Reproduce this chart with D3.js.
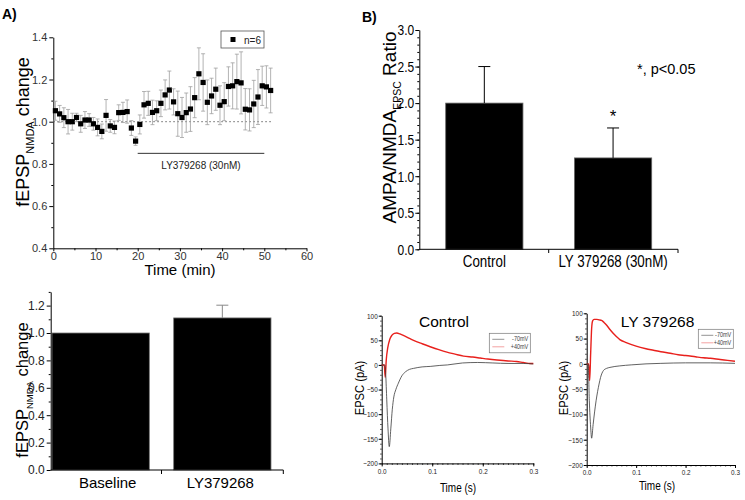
<!DOCTYPE html>
<html><head><meta charset="utf-8">
<script src="https://cdn.jsdelivr.net/npm/d3@7"></script>
<style>body{margin:0;background:#fff}svg{display:block}</style>
</head><body><svg id="c" width="745" height="500"></svg>
<script>
// ---------- Panel A (top): fEPSP_NMDA time course ----------
const timeMin = [0.5,1.5,2.5,3.5,4.5,5.5,6.5,7.5,8.5,9.5,10.5,11.5,12.5,13.5,14.5,15.5,16.5,17.5,18.5,19.5,20.5,21.5,22.5,23.5,24.5,25.5,26.5,27.5,28.5,29.5,30.5,31.5,32.5,33.5,34.5,35.5,36.5,37.5,38.5,39.5,40.5,41.5,42.5,43.5,44.5,45.5,46.5,47.5,48.5,49.5,50.5,51.5];
const fepspChange = [1.052,1.037,1.019,1.0,1.0,1.02,0.99,1.008,1.008,0.99,0.973,0.954,1.03,0.98,0.973,1.043,1.044,1.048,0.97,0.908,0.987,1.08,1.087,1.044,1.052,1.087,1.127,1.15,1.094,1.038,1.02,1.043,1.06,1.114,1.227,1.186,1.092,1.122,1.154,1.078,1.095,1.167,1.17,1.19,1.184,1.059,1.056,1.084,1.117,1.17,1.165,1.148];
const fepspSem = [0.045,0.04,0.047,0.058,0.04,0.02,0.04,0.04,0.03,0.03,0.04,0.035,0.075,0.03,0.03,0.037,0.048,0.055,0.035,0.02,0.045,0.063,0.057,0.058,0.047,0.063,0.071,0.09,0.062,0.107,0.095,0.093,0.106,0.095,0.123,0.136,0.106,0.084,0.1,0.092,0.09,0.093,0.109,0.13,0.147,0.098,0.1,0.112,0.13,0.093,0.1,0.106];
const timeTicks = [0,10,20,30,40,50,60];
const timeMinorTicks = [5,15,25,35,45,55];
const changeTicks = [0.4,0.6,0.8,1.0,1.2,1.4];
const changeMinorTicks = [0.5,0.7,0.9,1.1,1.3];
const drugBar = [20, 50];      // LY379268 application window (min)
const drugBarLevel = [0.85];
const baselineLevel = [1.0];

// ---------- Panel A (bottom): summary ----------
const summaryCats = ["Baseline","LY379268"];
const summaryVals = [1.0, 1.11];
const summaryErr = [0, 0.093];
const summaryTicks = [0.0,0.2,0.4,0.6,0.8,1.0,1.2];
const summaryMinorTicks = [0.1,0.3,0.5,0.7,0.9,1.1,1.3];

// ---------- Panel B (top): AMPA/NMDA ratio ----------
const ratioCats = ["Control","LY 379268 (30nM)"];
const ratioVals = [2.0, 1.25];
const ratioErr = [0.5, 0.41];
const ratioTicks = [0.0,0.5,1.0,1.5,2.0,2.5,3.0];

// ---------- Panel B (bottom): EPSC traces ----------
const ctlT70 = [0,0.006,0.008,0.010,0.0125,0.015,0.018,0.021,0.024,0.028,0.033,0.04,0.047,0.055,0.063,0.08,0.096,0.115,0.13,0.16,0.19,0.22,0.25,0.28,0.3];
const ctlV70 = [0,0,-20,-71,-130,-166,-130,-90,-65,-50,-37,-22,-14,-9,-7,-4,-3,-1,0,4,5,4,3,3,2];
const ctlT40 = [0,0.005,0.007,0.009,0.012,0.016,0.02,0.025,0.03,0.036,0.045,0.055,0.063,0.08,0.096,0.113,0.129,0.145,0.162,0.18,0.195,0.21,0.228,0.25,0.267,0.28,0.294,0.3];
const ctlV40 = [0,0,-25,10,35,52,60,64,65,63,59,54,50,43,37,31,26,22,18,16,14,12,10,8,7,5,3,3];
const lyT70 = [0,0.003,0.0053,0.008,0.010,0.013,0.016,0.019,0.022,0.025,0.028,0.034,0.04,0.047,0.067,0.09,0.12,0.15,0.2,0.25,0.3];
const lyV70 = [0,0,-73,-125,-147,-120,-95,-73,-55,-40,-27,-13,-9,-7,-4,-2,0,1,2,2,1];
const lyT40 = [0,0.004,0.006,0.008,0.010,0.012,0.015,0.02,0.025,0.03,0.035,0.04,0.047,0.054,0.06,0.067,0.08,0.1,0.12,0.135,0.15,0.169,0.185,0.2,0.22,0.236,0.25,0.27,0.285,0.3];
const lyV40 = [0,0,-33,20,70,85,88,88,87,86,82,77,68,60,54,48,42,35,30,27,24,21,18,16.6,14,12,11,8.6,7,5.3];
const traceTicksX = [0,0.1,0.2,0.3];
const traceTicksY = [-200,-150,-100,-50,0,50,100];
const legendLabels = ["-70mV","+40mV"];

// ======================================================
const FA = '"Liberation Sans", Arial, Helvetica, sans-serif';
const svg = d3.select("#c");

// horizontally condense text (figure uses a squeezed font)
function narrow(sel, k){
  sel.each(function(){
    const t = d3.select(this);
    const x = +(t.attr("x") || 0);
    const tr = t.attr("transform") || "";
    t.attr("x", x / k).attr("transform", tr + ` scale(${k},1)`);
  });
}
function styleAxis(g, size, color){
  g.attr("font-family", FA).attr("font-size", size);
  g.selectAll("path,line").attr("stroke","#000").attr("stroke-width",1);
  g.selectAll("text").attr("fill", color);
}
function ylabel(x, y, size, main, sub, rest, subSize){
  const t = svg.append("text").attr("transform",`translate(${x},${y}) rotate(-90)`)
    .attr("text-anchor","middle").attr("font-family",FA).attr("font-size",size).attr("fill","#000");
  t.append("tspan").text(main);
  t.append("tspan").attr("font-size",subSize).attr("baseline-shift",`${-size*0.28}px`).text(sub);
  t.append("tspan").text(rest);
  return t;
}

// ---------- A top ----------
{
  const x = d3.scaleLinear().domain([0,60]).range([53.3,306.5]);
  const y = d3.scaleLinear().domain([0.4,1.4]).range([248.3,37.3]);
  const g = svg.append("g");
  g.append("g").attr("transform",`translate(0,${y(0.4)})`)
    .call(d3.axisBottom(x).tickValues(timeMinorTicks).tickSize(2).tickFormat(""))
    .call(a=>{a.select(".domain").remove(); styleAxis(a,11,"#333");});
  g.append("g").attr("transform",`translate(0,${y(0.4)})`)
    .call(d3.axisBottom(x).tickValues(timeTicks).tickSize(3).tickPadding(1).tickSizeOuter(0).tickFormat(d3.format("d")))
    .call(a=>styleAxis(a,11,"#333"));
  g.append("g").attr("transform",`translate(${x(0)},0)`)
    .call(d3.axisLeft(y).tickValues(changeMinorTicks).tickSize(2).tickFormat(""))
    .call(a=>{a.select(".domain").remove(); styleAxis(a,11,"#333");});
  g.append("g").attr("transform",`translate(${x(0)},0)`)
    .call(d3.axisLeft(y).tickValues(changeTicks).tickSize(4).tickPadding(2).tickSizeOuter(0).tickFormat(d3.format(".1f")))
    .call(a=>styleAxis(a,11,"#333"));
  g.selectAll(".base").data(baselineLevel).enter().append("line")
    .attr("x1",x(0)).attr("x2",x(timeMin[timeMin.length-1])+1)
    .attr("y1",d=>y(d)).attr("y2",d=>y(d))
    .attr("stroke","#666").attr("stroke-width",1).attr("stroke-dasharray","1.5,2.5");
  const eb = g.selectAll(".eb").data(timeMin.map((t,i)=>({t,v:fepspChange[i],e:fepspSem[i]}))).enter().append("g");
  eb.append("line").attr("x1",d=>x(d.t)).attr("x2",d=>x(d.t)).attr("y1",d=>y(d.v-d.e)).attr("y2",d=>y(d.v+d.e)).attr("stroke","#a0a0a0").attr("stroke-width",0.8);
  eb.append("line").attr("x1",d=>x(d.t)-2).attr("x2",d=>x(d.t)+2).attr("y1",d=>y(d.v+d.e)).attr("y2",d=>y(d.v+d.e)).attr("stroke","#a0a0a0").attr("stroke-width",0.8);
  eb.append("line").attr("x1",d=>x(d.t)-2).attr("x2",d=>x(d.t)+2).attr("y1",d=>y(d.v-d.e)).attr("y2",d=>y(d.v-d.e)).attr("stroke","#a0a0a0").attr("stroke-width",0.8);
  eb.append("rect").attr("x",d=>x(d.t)-2.6).attr("y",d=>y(d.v)-2.6).attr("width",5.2).attr("height",5.2).attr("fill","#000");
  g.append("line").attr("x1",x(drugBar[0])).attr("x2",x(drugBar[1])).attr("y1",y(drugBarLevel[0])).attr("y2",y(drugBarLevel[0])).attr("stroke","#333").attr("stroke-width",1);
  g.append("text").attr("x",x((drugBar[0]+drugBar[1])/2)).attr("y",y(drugBarLevel[0])+16).attr("text-anchor","middle")
    .attr("font-family",FA).attr("font-size",10).attr("fill","#222").text("LY379268 (30nM)");
  g.append("rect").attr("x",221).attr("y",31).attr("width",43).attr("height",17).attr("fill","#fff").attr("stroke","#555").attr("stroke-width",0.8);
  g.append("rect").attr("x",230.5).attr("y",37).attr("width",5).attr("height",5).attr("fill","#000");
  g.append("text").attr("x",244).attr("y",43.5).attr("font-family",FA).attr("font-size",10).attr("fill","#222").text("n=6");
  g.append("text").attr("x",180).attr("y",275).attr("text-anchor","middle").attr("font-family",FA).attr("font-size",15).attr("fill","#000").text("Time (min)");
  ylabel(29,132,18,"fEPSP","NMDA"," change",11);
  svg.append("text").attr("x",2).attr("y",19).attr("font-family",FA).attr("font-weight","bold").attr("font-size",14).text("A)");
}

// ---------- A bottom ----------
{
  const x = d3.scaleBand().domain(summaryCats).range([52,271]).paddingInner(0.2);
  const y = d3.scaleLinear().domain([0,1.3]).range([470,291.9]);
  const g = svg.append("g");
  g.selectAll(".bar").data(summaryCats).enter().append("rect")
    .attr("x",d=>x(d)).attr("width",x.bandwidth()).attr("y",(d,i)=>y(summaryVals[i])).attr("height",(d,i)=>y(0)-y(summaryVals[i]))
    .attr("fill","#000").attr("stroke","#777").attr("stroke-width",0.8);
  summaryCats.forEach((d,i)=>{
    if(!summaryErr[i]) return;
    const cx = x(d)+x.bandwidth()/2;
    g.append("line").attr("x1",cx).attr("x2",cx).attr("y1",y(summaryVals[i])).attr("y2",y(summaryVals[i]+summaryErr[i])).attr("stroke","#888");
    g.append("line").attr("x1",cx-6).attr("x2",cx+6).attr("y1",y(summaryVals[i]+summaryErr[i])).attr("y2",y(summaryVals[i]+summaryErr[i])).attr("stroke","#888");
  });
  g.append("g").attr("transform",`translate(50.7,0)`)
    .call(d3.axisLeft(y).tickValues(summaryMinorTicks).tickSize(2).tickFormat(""))
    .call(a=>{a.select(".domain").remove(); styleAxis(a,12,"#222");});
  g.append("g").attr("transform",`translate(50.7,0)`)
    .call(d3.axisLeft(y).tickValues(summaryTicks).tickSize(4).tickPadding(2).tickSizeOuter(0).tickFormat(d3.format(".1f")))
    .call(a=>styleAxis(a,12,"#222"));
  g.append("line").attr("x1",50.7).attr("x2",283.3).attr("y1",470).attr("y2",470).attr("stroke","#000");
  const mid = (x(summaryCats[0])+x.bandwidth()+x(summaryCats[1]))/2;
  g.append("line").attr("x1",mid).attr("x2",mid).attr("y1",470).attr("y2",474).attr("stroke","#000");
  g.append("line").attr("x1",283.3).attr("x2",283.3).attr("y1",470).attr("y2",474).attr("stroke","#000");
  g.selectAll(".cl").data(summaryCats).enter().append("text")
    .attr("x",(d,i)=>x(d)+x.bandwidth()/2+(i?-2:7)).attr("y",488).attr("text-anchor","middle")
    .attr("font-family",FA).attr("font-size",15).attr("fill","#000").text(d=>d);
  ylabel(28,390,16.5,"fEPSP","NMDA"," change",9.5);
}

// ---------- B top ----------
{
  const x = d3.scaleBand().domain(ratioCats).range([445.7,651.7]).paddingInner(0.4);
  const y = d3.scaleLinear().domain([0,3]).range([249.3,30]);
  const g = svg.append("g");
  g.selectAll(".bar").data(ratioCats).enter().append("rect")
    .attr("x",d=>x(d)).attr("width",x.bandwidth()).attr("y",(d,i)=>y(ratioVals[i])).attr("height",(d,i)=>y(0)-y(ratioVals[i]))
    .attr("fill","#000").attr("stroke","#666").attr("stroke-width",0.8);
  ratioCats.forEach((d,i)=>{
    const cx = x(d)+x.bandwidth()/2;
    g.append("line").attr("x1",cx).attr("x2",cx).attr("y1",y(ratioVals[i])).attr("y2",y(ratioVals[i]+ratioErr[i])).attr("stroke","#000");
    g.append("line").attr("x1",cx-6).attr("x2",cx+6).attr("y1",y(ratioVals[i]+ratioErr[i])).attr("y2",y(ratioVals[i]+ratioErr[i])).attr("stroke","#000");
  });
  g.append("g").attr("transform",`translate(419.3,0)`)
    .call(d3.axisLeft(y).ticks(30).tickSize(2).tickFormat(""))
    .call(a=>{a.select(".domain").remove(); styleAxis(a,15,"#000");});
  g.append("g").attr("transform",`translate(419.3,0)`)
    .call(d3.axisLeft(y).tickValues(ratioTicks).tickSize(4).tickPadding(1).tickSizeOuter(0).tickFormat(d3.format(".1f")))
    .call(a=>{styleAxis(a,15,"#000"); narrow(a.selectAll("text"),0.8);});
  g.append("line").attr("x1",419.3).attr("x2",678).attr("y1",249.3).attr("y2",249.3).attr("stroke","#000");
  const mid = (x(ratioCats[0])+x.bandwidth()+x(ratioCats[1]))/2;
  g.append("line").attr("x1",mid).attr("x2",mid).attr("y1",249.3).attr("y2",253).attr("stroke","#000");
  g.append("line").attr("x1",678).attr("x2",678).attr("y1",249.3).attr("y2",253).attr("stroke","#000");
  g.selectAll(".cl").data(ratioCats).enter().append("text")
    .attr("x",d=>x(d)+x.bandwidth()/2).attr("y",267).attr("text-anchor","middle")
    .attr("font-family",FA).attr("font-size",16.5).attr("fill","#000").text(d=>d)
    .call(s=>narrow(s,0.81));
  g.append("text").attr("x",x(ratioCats[1])+x.bandwidth()/2).attr("y",y(ratioVals[1]+ratioErr[1])-6).attr("text-anchor","middle")
    .attr("font-family",FA).attr("font-size",17).text("*");
  g.append("text").attr("x",637).attr("y",74).attr("font-family",FA).attr("font-size",14.5).text("*, p<0.05");
  ylabel(396,127.5,19,"AMPA/NMDA","EPSC"," Ratio",10.5);
  svg.append("text").attr("x",362).attr("y",22).attr("font-family",FA).attr("font-weight","bold").attr("font-size",14).text("B)");
}

// ---------- B bottom traces ----------
function drawTrace(cfg){
  const x = d3.scaleLinear().domain([0,0.3]).range(cfg.xr);
  const y = d3.scaleLinear().domain([-200,100]).range(cfg.yr);
  const g = svg.append("g");
  g.append("g").attr("transform",`translate(0,${cfg.yr[0]})`)
    .call(d3.axisBottom(x).ticks(30).tickSize(1.5).tickFormat(""))
    .call(a=>{a.select(".domain").remove(); styleAxis(a,8,"#222"); a.selectAll("line").attr("stroke","#444");});
  g.append("g").attr("transform",`translate(0,${cfg.yr[0]})`)
    .call(d3.axisBottom(x).tickValues(traceTicksX).tickSize(3).tickPadding(2).tickSizeOuter(0).tickFormat(d3.format(".1f")))
    .call(a=>{styleAxis(a,7.5,"#222"); narrow(a.selectAll("text"),0.85);});
  g.append("g").attr("transform",`translate(${cfg.xr[0]},0)`)
    .call(d3.axisLeft(y).ticks(30).tickSize(1.5).tickFormat(""))
    .call(a=>{a.select(".domain").remove(); styleAxis(a,8,"#222"); a.selectAll("line").attr("stroke","#444");});
  g.append("g").attr("transform",`translate(${cfg.xr[0]},0)`)
    .call(d3.axisLeft(y).tickValues(traceTicksY).tickSize(3).tickPadding(1).tickSizeOuter(0).tickFormat(d3.format("d")))
    .call(a=>{styleAxis(a,7.5,"#222"); narrow(a.selectAll("text"),0.85);});
  const line = d3.line().x(d=>x(d[0])).y(d=>y(d[1])).curve(d3.curveMonotoneX);
  g.append("path").datum(cfg.t40.map((t,i)=>[t,cfg.v40[i]])).attr("d",line).attr("fill","none").attr("stroke","#e8201c").attr("stroke-width",1.4);
  g.append("path").datum(cfg.t70.map((t,i)=>[t,cfg.v70[i]])).attr("d",line).attr("fill","none").attr("stroke","#3a3a3a").attr("stroke-width",0.8);
  const L = cfg.leg;
  g.append("rect").attr("x",L[0]).attr("y",L[1]).attr("width",L[2]).attr("height",L[3]).attr("fill","#fff").attr("stroke","#777").attr("stroke-width",0.7);
  legendLabels.forEach((lab,i)=>{
    const ly = L[1]+6+i*7.5;
    g.append("line").attr("x1",L[0]+3).attr("x2",L[0]+15).attr("y1",ly).attr("y2",ly).attr("stroke",i?"#f08a8a":"#777").attr("stroke-width",0.8);
    g.append("text").attr("x",L[0]+L[2]-2).attr("y",ly+2).attr("text-anchor","end").attr("font-family",FA).attr("font-size",6.5).attr("fill","#444").text(lab)
      .call(s=>narrow(s,0.85));
  });
  g.append("text").attr("x",cfg.title[0]).attr("y",cfg.title[1]).attr("text-anchor","middle").attr("font-family",FA).attr("font-size",15.5).text(cfg.name);
  g.append("text").attr("x",cfg.xl[0]).attr("y",cfg.xl[1]).attr("text-anchor","middle").attr("font-family",FA).attr("font-size",12.5).text("Time (s)")
    .call(s=>narrow(s,0.8));
  g.append("text").attr("transform",`translate(${cfg.yl[0]},${cfg.yl[1]}) rotate(-90)`).attr("text-anchor","middle").attr("font-family",FA).attr("font-size",12).text("EPSC (pA)")
    .call(s=>narrow(s,0.93));
}
drawTrace({xr:[381.7,533.3], yr:[463.4,315.7], t70:ctlT70, v70:ctlV70, t40:ctlT40, v40:ctlV40,
  leg:[489.3,333.3,41,19.5], title:[444,327], name:"Control", xl:[458,492], yl:[364,388]});
drawTrace({xr:[586.7,735], yr:[465,313.3], t70:lyT70, v70:lyV70, t40:lyT40, v40:lyV40,
  leg:[698.3,329.3,35,19], title:[657.5,327], name:"LY 379268", xl:[657,490], yl:[568,388]});
</script></body></html>
